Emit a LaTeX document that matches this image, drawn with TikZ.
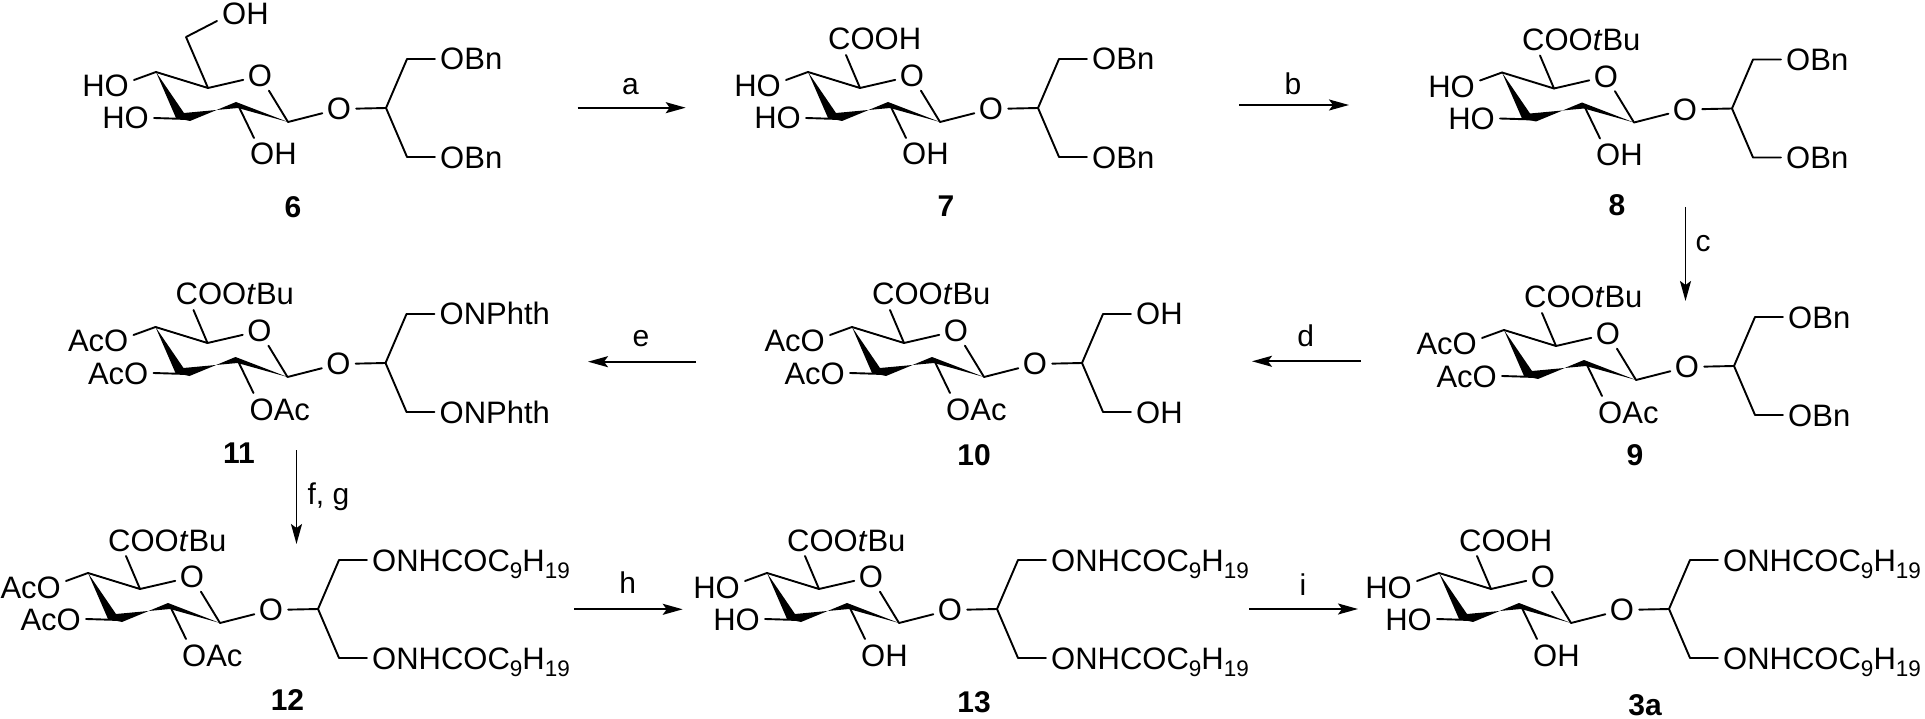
\documentclass[tikz,border=0pt]{standalone}
\usepackage{fontspec}
\setmainfont{Liberation Sans}
\usetikzlibrary{arrows.meta}
\newcommand{\sbs}[1]{\raisebox{-0.24em}{\fontsize{22.5}{25}\selectfont #1}}
\newcommand{\Cnine}{ONHCOC\sbs{9}H\sbs{19}}
\newcommand{\tBuEster}{COO\textit{t}Bu}
\tikzset{
  x=1pt,y=-1pt,
  bond/.style={line width=1.9pt,line cap=round,line join=round},
  atom/.style={circle,inner sep=0pt,minimum size=34pt,font=\fontsize{31}{36}\selectfont},
  lbl/.style={inner sep=0pt,font=\fontsize{31}{36}\selectfont},
  num/.style={inner sep=0pt,font=\fontsize{30}{36}\selectfont\bfseries},
  reag/.style={inner sep=0pt,anchor=base,font=\fontsize{30}{36}\selectfont},
  rxn/.style={line width=1.9pt,-{Stealth[length=20pt,width=11pt,inset=4pt]}},
}
% name, x, y, C5 substituent code, C4 text, C3 text, C2 text, arm text
\newcommand{\sugar}[8]{%
  \begin{scope}[shift={(#2,#3)}]
    \coordinate (#1c1) at (0,0);
    \coordinate (#1c2) at (-50,-17);
    \coordinate (#1c3) at (-101,-3);
    \coordinate (#1c4) at (-132,-50);
    \coordinate (#1c5) at (-80,-34);
    \node[atom] (#1ro) at (-28,-46) {O};
    \node[atom] (#1xo) at (51,-13) {O};
    \coordinate (#1ch) at (98,-14);
    \coordinate (#1up) at (119,-63);
    \coordinate (#1dn) at (119,35);
    \coordinate (#1upe) at (147,-63);
    \coordinate (#1dne) at (147,35);
    \coordinate (#1e4) at (-154,-42);
    \coordinate (#1e3) at (-134,-4);
    \coordinate (#1e2) at (-34,16);
    \fill[line join=round] (#1c4) -- (-112,-4) -- (-98,-1) -- (-52,-20) -- (#1c1) -- (-50,-14) -- (-104,-9) -- cycle;
    \draw[bond] (#1c4) -- (#1c5) -- (#1ro) -- (#1c1) -- (#1xo) -- (#1ch) -- (#1up) -- (#1upe);
    \draw[bond] (#1ch) -- (#1dn) -- (#1dne);
    \draw[bond] (#1c4) -- (#1e4);
    \draw[bond] (#1c3) -- (#1e3);
    \draw[bond] (#1c2) -- (#1e2);
    \node[lbl,anchor=base east] (#1t4) at (-159,-25) {#5};
    \node[lbl,anchor=base east] (#1t3) at (-139,7) {#6};
    \node[lbl,anchor=base west] (#1t2) at (-38,43) {#7};
    \node[lbl,anchor=base west] (#1tu) at (152,-52) {#8};
    \node[lbl,anchor=base west] (#1td) at (152,46.5) {#8};
    #4
  \end{scope}%
}
\newcommand{\topsub}[2]{%
  \coordinate (#1e5) at (-94,-67);
  \draw[bond] (#1c5) -- (#1e5);
  \node[lbl,anchor=base west] (#1t5) at (-112,-72) {#2};
}
\newcommand{\topch}[1]{%
  \coordinate (#1c6) at (-102,-85);
  \coordinate (#1e6) at (-71,-101);
  \draw[bond] (#1c5) -- (#1c6) -- (#1e6);
  \node[lbl,anchor=base west] (#1t6) at (-66,-97) {OH};
}
\begin{document}
\begin{tikzpicture}
\useasboundingbox (0,0) rectangle (1925,719);
\sugar{A}{288}{122}{\topch{A}}{HO}{HO}{OH}{OBn}
\sugar{B}{940}{122}{\topsub{B}{COOH}}{HO}{HO}{OH}{OBn}
\sugar{C}{1634}{122.5}{\topsub{C}{\tBuEster}}{HO}{HO}{OH}{OBn}
\sugar{D}{1636}{380}{\topsub{D}{\tBuEster}}{AcO}{AcO}{OAc}{OBn}
\sugar{E}{984}{377}{\topsub{E}{\tBuEster}}{AcO}{AcO}{OAc}{OH}
\sugar{F}{287.5}{377}{\topsub{F}{\tBuEster}}{AcO}{AcO}{OAc}{ONPhth}
\sugar{G}{220}{623}{\topsub{G}{\tBuEster}}{AcO}{AcO}{OAc}{\Cnine}
\sugar{H}{899}{623}{\topsub{H}{\tBuEster}}{HO}{HO}{OH}{\Cnine}
\sugar{I}{1571}{623}{\topsub{I}{COOH}}{HO}{HO}{OH}{\Cnine}
\node[num] (n6) at (293,207) {6};
\node[num] (n7) at (946,206) {7};
\node[num] (n8) at (1617,205) {8};
\node[num] (n9) at (1635,455) {9};
\node[num] (n10) at (974,455) {10};
\node[num] (n11) at (239,453) {11};
\node[num] (n12) at (287.5,700) {12};
\node[num] (n13) at (974,702) {13};
\node[num] (n3a) at (1645,705) {3a};
\coordinate (as) at (577.5,107.7); \coordinate (ae) at (685.7,107.7);
\coordinate (bs) at (1239,105); \coordinate (be) at (1349,105);
\coordinate (cs) at (1685.5,207); \coordinate (ce) at (1685.5,301);
\coordinate (ds) at (1360.7,361.3); \coordinate (de) at (1252,361.3);
\coordinate (es) at (696,361.7); \coordinate (ee) at (588,361.7);
\coordinate (fs) at (296.5,450); \coordinate (fe) at (296.5,544);
\coordinate (hs) at (574,609.3); \coordinate (he) at (682.7,609.3);
\coordinate (is) at (1249,609); \coordinate (ie) at (1358,609);
\foreach \r in {a,b,c,d,e,f,h,i} \draw[rxn] (\r s) -- (\r e);
\node[reag] (la) at (630.5,95) {a};
\node[reag] (lb) at (1293,95) {b};
\node[reag] (lc) at (1703,252) {c};
\node[reag] (ld) at (1305.7,346.7) {d};
\node[reag] (le) at (641,346.7) {e};
\node[reag] (lf) at (328.5,504) {f, g};
\node[reag] (lh) at (627.7,593) {h};
\node[reag] (li) at (1303,595) {i};
\end{tikzpicture}
\end{document}
